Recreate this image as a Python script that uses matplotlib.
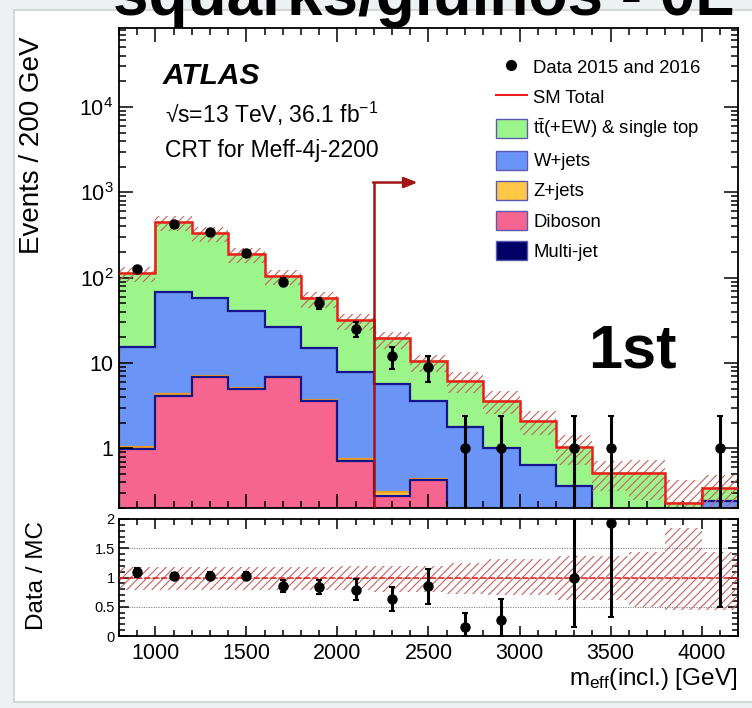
import matplotlib
matplotlib.use("Agg")
import matplotlib.pyplot as plt
import numpy as np
from matplotlib.patches import Patch, Rectangle
from matplotlib.lines import Line2D
from matplotlib.ticker import FixedLocator, MultipleLocator, LogLocator, NullFormatter, FuncFormatter

plt.rcParams["font.family"] = ["Liberation Sans", "DejaVu Sans"]
plt.rcParams["mathtext.fontset"] = "custom"
plt.rcParams["mathtext.rm"] = "Liberation Sans"
plt.rcParams["mathtext.it"] = "Liberation Sans:italic"
plt.rcParams["mathtext.bf"] = "Liberation Sans:bold"
plt.rcParams["hatch.linewidth"] = 0.8

# m_eff binning, 200 GeV bins
bin_edges = [800, 1000, 1200, 1400, 1600, 1800, 2000, 2200, 2400, 2600,
             2800, 3000, 3200, 3400, 3600, 3800, 4000, 4200]

# background components (events per bin)
multijet = [0, 0, 0, 0, 0, 0, 0, 0, 0, 0, 0, 0, 0, 0, 0, 0, 0]
diboson = [0.97, 4.06, 6.9, 5.0, 6.8, 3.6, 0.72, 0.28, 0.43, 0, 0, 0, 0, 0, 0, 0, 0]
zjets = [0.08, 0.25, 0.2, 0.1, 0.05, 0.05, 0.02, 0.03, 0.01, 0, 0, 0, 0, 0, 0, 0, 0]
wjets = [14.5, 62.7, 49.9, 35.9, 19.2, 11.4, 7.0, 5.3, 3.1, 1.8, 1.0, 0.63, 0.36,
         0, 0, 0, 0.24]
ttbar = [98, 383, 278, 149, 79, 42, 23.8, 13.8, 6.9, 4.4, 2.6, 1.44, 0.69,
         0.52, 0.51, 0.23, 0.10]

# relative uncertainty on the SM total
unc_up = [0.18, 0.18, 0.18, 0.18, 0.18, 0.18, 0.19, 0.19, 0.19, 0.25, 0.31, 0.31,
          0.37, 0.37, 0.44, 0.84, 0.44]
unc_dn = [0.21, 0.21, 0.21, 0.21, 0.21, 0.22, 0.22, 0.24, 0.25, 0.28, 0.30, 0.30,
          0.39, 0.39, 0.51, 0.56, 0.56]

# data
data_x = [900, 1100, 1300, 1500, 1700, 1900, 2100, 2300, 2500, 2700, 2900, 3300, 3500, 4100]
data_y = [127, 427, 345, 196, 90, 50, 25, 12, 9, 1, 1, 1, 1, 1]
data_err_up = [11.3, 20.7, 18.6, 14.0, 9.5, 7.1, 5.0, 3.5, 3.0, 1.37, 1.37, 1.37, 1.37, 1.37]
data_err_dn = [11.3, 20.7, 18.6, 14.0, 9.5, 7.1, 5.0, 3.5, 3.0, 0.999, 0.999, 0.999, 0.999, 0.999]

ratio_y = [1.09, 1.03, 1.03, 1.03, 0.85, 0.84, 0.79, 0.63, 0.85, 0.15, 0.27, 1.0, 1.93, 2.9]
ratio_err_up = [0.08, 0.05, 0.06, 0.06, 0.1, 0.12, 0.18, 0.2, 0.3, 0.24, 0.36, 1.4, 1.4, 4.0]
ratio_err_dn = [0.08, 0.05, 0.06, 0.06, 0.1, 0.12, 0.18, 0.2, 0.3, 0.15, 0.27, 0.84, 1.6, 2.4]

cut_value = 2200
arrow_height = 1300
arrow_end = 2440

W, H = 752, 708
fig = plt.figure(figsize=(W / 100, H / 100), dpi=100, facecolor="#eef1f1")

# slide panel behind the plot
fig.patches.append(Rectangle((14 / W, 1 - 702 / H), 1.0, (702 - 10) / H,
                             transform=fig.transFigure, facecolor="white",
                             edgecolor="#d3d8d8", linewidth=1.5, zorder=-5))


def fig_box(left, top, right, bottom):
    return [left / W, 1 - bottom / H, (right - left) / W, (bottom - top) / H]


ax = fig.add_axes(fig_box(119, 28, 738, 508))
rax = fig.add_axes(fig_box(119, 519, 738, 636), sharex=ax)
ax.set_facecolor("none")
rax.set_facecolor("none")

edges = np.array(bin_edges, dtype=float)
floor = 1e-3
comps = [np.array(c, dtype=float) for c in (multijet, diboson, zjets, wjets, ttbar)]
cum = np.cumsum(comps, axis=0)
total = cum[-1]

fill_colors = ["#000066", "#f5658f", "#ffc847", "#6b94f7", "#9cf58a"]
line_colors = ["#000066", "#14148c", "#f0a020", "#14148c", "#9cf58a"]
labels = ["Multi-jet", "Diboson", "Z+jets", "W+jets", r"$\mathrm{t\bar{t}}$(+EW) & single top"]

# stack drawn from the top component downwards
for i in range(len(comps) - 1, -1, -1):
    vals = np.maximum(cum[i], floor)
    ax.stairs(vals, edges, baseline=floor, fill=True, color=fill_colors[i], zorder=1)
    ax.stairs(vals, edges, baseline=floor, fill=False, color=line_colors[i],
              linewidth=1.6, zorder=1.1)

hatch_col = "#c75f5f"
up = np.array(unc_up)
dn = np.array(unc_dn)
ax.stairs(total * (1 + up), edges, baseline=total * (1 - dn), fill=True,
          facecolor="none", edgecolor=hatch_col, hatch="////", linewidth=0, zorder=2)
ax.stairs(total, edges, baseline=None, color="#ee1c1c", linewidth=1.8, zorder=3)

ax.errorbar(data_x, data_y, yerr=[data_err_dn, data_err_up], fmt="o", color="black",
            markersize=6.5, elinewidth=2.2, capsize=2, capthick=1.5, zorder=5)

ax.set_yscale("log")
ax.set_xlim(800, 4200)
ax.set_ylim(0.2, 8.4e4)

# signal region cut arrow
ymin = ax.get_ylim()[0]
ax.plot([cut_value, cut_value], [ymin, arrow_height], color="#a31515", linewidth=1.8, zorder=4)
ax.annotate("", xy=(arrow_end, arrow_height), xytext=(cut_value - 5, arrow_height),
            arrowprops=dict(arrowstyle="-|>,head_length=0.8,head_width=0.32",
                            color="#a31515", linewidth=1.8, shrinkA=0, shrinkB=0),
            zorder=4)


def log_label(v, pos):
    if v == 1:
        return "1"
    if v == 10:
        return "10"
    return r"$10^{%d}$" % int(round(np.log10(v)))


ax.yaxis.set_major_locator(FixedLocator([1, 10, 100, 1e3, 1e4]))
ax.yaxis.set_major_formatter(FuncFormatter(log_label))
ax.yaxis.set_minor_locator(LogLocator(base=10, subs=np.arange(2, 10), numticks=20))
ax.yaxis.set_minor_formatter(NullFormatter())
ax.xaxis.set_major_locator(MultipleLocator(500))
ax.xaxis.set_minor_locator(MultipleLocator(100))
ax.tick_params(axis="x", labelbottom=False)
ax.tick_params(which="both", direction="in", top=True, right=True, width=1.1)
ax.tick_params(which="major", length=10)
ax.tick_params(which="minor", length=5)
ax.tick_params(axis="y", labelsize=15.5, pad=4)
for s in ax.spines.values():
    s.set_linewidth(1.3)

# legend
handles = [
    Line2D([], [], marker="o", linestyle="none", color="black", markersize=7),
    Line2D([], [], color="#ee1c1c", linewidth=1.5),
]
for i in range(len(comps) - 1, -1, -1):
    handles.append(Patch(facecolor=fill_colors[i], edgecolor="#5a5ab0", linewidth=1))
leg_labels = ["Data 2015 and 2016", "SM Total"] + labels[::-1]
ax.legend(handles, leg_labels, loc="upper left", bbox_to_anchor=(0.609, 0.94),
          frameon=False, fontsize=13.3, handlelength=1.68, handleheight=1.2,
          labelspacing=0.56, handletextpad=0.35, borderpad=0, borderaxespad=0)

fig.text(163 / W, 1 - 84 / H, "ATLAS", fontsize=21.5, fontweight="bold", style="italic")
fig.text(165 / W, 1 - 123 / H, "\u221as=13 TeV, 36.1 fb$^{-1}$", fontsize=16.5)
fig.text(165 / W, 1 - 157 / H, "CRT for Meff-4j-2200", fontsize=16.5)
fig.text(588 / W, 1 - 368 / H, "1st", fontsize=44, fontweight="bold")

# ratio panel
r_up = np.array(unc_up)
r_dn = np.array(unc_dn)
rax.stairs(1 + r_up, edges, baseline=1 - r_dn, fill=True, facecolor="none",
           edgecolor=hatch_col, hatch="////", linewidth=0, zorder=2)
for lvl in (0.5, 1.0, 1.5):
    rax.axhline(lvl, color="#808080", linestyle=(0, (1, 1.2)), linewidth=0.8, zorder=1)
rax.axhline(1.0, color="#ee1c1c", linestyle=(0, (4, 1.5)), linewidth=1.1, zorder=3)
rax.errorbar(data_x, ratio_y, yerr=[ratio_err_dn, ratio_err_up], fmt="o", color="black",
             markersize=6.5, elinewidth=2.2, capsize=2, capthick=1.5, zorder=5)
rax.set_ylim(0, 2)
rax.set_xlim(800, 4200)
rax.yaxis.set_major_locator(FixedLocator([0, 0.5, 1, 1.5, 2]))
rax.yaxis.set_major_formatter(FuncFormatter(lambda v, p: "%g" % v))
rax.yaxis.set_minor_locator(MultipleLocator(0.1))
rax.tick_params(which="both", direction="in", top=True, right=True, width=1.1)
rax.tick_params(which="major", length=7)
rax.tick_params(which="minor", length=4)
rax.tick_params(axis="y", labelsize=10.5, pad=3)
rax.tick_params(axis="x", labelsize=15.5, pad=5)
for s in rax.spines.values():
    s.set_linewidth(1.3)

fig.text(32 / W, 1 - 145 / H, "Events / 200 GeV", rotation=90, ha="center",
         va="center", fontsize=20)
fig.text(37 / W, 1 - 575 / H, "Data / MC", rotation=90, ha="center", va="center",
         fontsize=17.5)
fig.text(737 / W, 1 - 685 / H, r"m$_{\mathrm{eff}}$(incl.) [GeV]", ha="right",
         va="baseline", fontsize=17.5)

# slide title, partly above the canvas
fig.text(113 / W, 1 - 15 / H, "squarks/gluinos - 0L", fontsize=46, fontweight="bold",
         va="baseline")

fig.savefig("out.png", dpi=100, facecolor=fig.get_facecolor())
